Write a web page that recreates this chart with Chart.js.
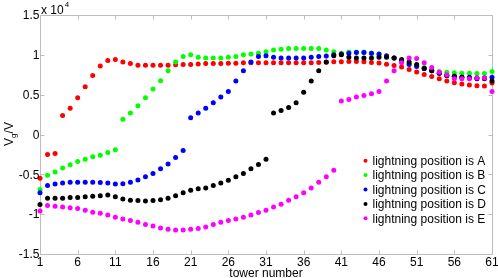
<!DOCTYPE html>
<html>
<head>
<meta charset="UTF-8">
<title>Vg vs tower number</title>
<script src="https://cdn.jsdelivr.net/npm/chart.js"></script>
<style>
  html, body { margin: 0; padding: 0; background: #fff; }
  #wrap { width: 498px; height: 278px; }
</style>
</head>
<body>
<div id="wrap"><canvas id="c" width="498" height="278"></canvas></div>
<script>
// tower numbers 1..61
const towers = [1,2,3,4,5,6,7,8,9,10,11,12,13,14,15,16,17,18,19,20,21,22,23,24,25,26,27,28,29,30,
  31,32,33,34,35,36,37,38,39,40,41,42,43,44,45,46,47,48,49,50,51,52,53,54,55,56,57,58,59,60,61];

// values in units of 10^4 V
const posA = [-0.55,-0.25,-0.24,0.24,0.33,0.46,0.60,0.74,0.86,0.93,0.94,0.91,0.89,0.87,0.87,0.87,0.87,0.87,0.875,0.88,
  0.88,0.885,0.89,0.89,0.89,0.895,0.895,0.90,0.90,0.90,0.90,0.90,0.90,0.90,0.90,0.90,0.90,0.904,0.908,0.912,
  0.912,0.917,0.917,0.912,0.904,0.896,0.883,0.867,0.846,0.817,0.783,0.754,0.729,0.70,0.671,0.65,0.633,0.621,0.613,0.608,0.646];
const posB = [-0.69,-0.51,-0.47,-0.42,-0.38,-0.34,-0.31,-0.28,-0.26,-0.225,-0.19,0.19,0.27,0.36,0.46,0.57,0.675,0.80,0.91,0.98,
  1.00,0.97,0.96,0.96,0.96,0.97,0.98,1.00,1.01,1.02,1.04,1.06,1.07,1.08,1.08,1.08,1.08,1.08,1.06,1.04,
  1.02,1.035,1.035,1.035,1.02,1.00,0.98,0.96,0.925,0.89,0.867,0.84,0.81,0.79,0.78,0.775,0.77,0.77,0.765,0.765,0.79];
const posC = [-0.73,-0.64,-0.62,-0.61,-0.60,-0.60,-0.60,-0.60,-0.604,-0.61,-0.62,-0.617,-0.60,-0.57,-0.53,-0.49,-0.43,-0.37,-0.29,-0.20,
  0.21,0.27,0.33,0.40,0.47,0.54,0.67,0.80,0.91,0.98,0.99,0.97,0.96,0.96,0.96,0.96,0.97,0.98,0.985,1.00,
  1.01,1.02,1.03,1.03,1.02,1.01,0.99,0.96,0.925,0.88,0.855,0.83,0.80,0.77,0.74,0.73,0.72,0.72,0.71,0.71,0.72];
const posD = [-0.88,-0.80,-0.80,-0.80,-0.79,-0.79,-0.78,-0.775,-0.77,-0.76,-0.78,-0.81,-0.825,-0.83,-0.835,-0.83,-0.82,-0.80,-0.77,-0.73,
  -0.70,-0.68,-0.67,-0.64,-0.61,-0.575,-0.53,-0.49,-0.43,-0.375,-0.31,0.27,0.30,0.34,0.40,0.53,0.67,0.80,0.91,0.99,
  1.00,0.97,0.96,0.96,0.96,0.97,0.97,0.96,0.94,0.91,0.88,0.83,0.80,0.77,0.74,0.73,0.72,0.71,0.70,0.70,0.67];
const posE = [-0.96,-0.89,-0.90,-0.91,-0.92,-0.93,-0.95,-0.975,-0.99,-1.01,-1.04,-1.06,-1.08,-1.10,-1.13,-1.15,-1.175,-1.19,-1.20,-1.20,
  -1.19,-1.18,-1.16,-1.13,-1.10,-1.08,-1.06,-1.04,-1.01,-0.98,-0.95,-0.91,-0.875,-0.825,-0.78,-0.73,-0.67,-0.60,-0.53,-0.45,
  0.42,0.44,0.47,0.49,0.51,0.54,0.67,0.80,0.90,0.96,0.955,0.90,0.84,0.78,0.75,0.70,0.70,0.70,0.71,0.71,0.54];

const seriesLabels = ['lightning position is A','lightning position is B','lightning position is C',
  'lightning position is D','lightning position is E'];
const seriesColors = ['#ff0000','#00ff00','#0000ff','#000000','#ff00ff'];
const xTicks = [1,6,11,16,21,26,31,36,41,46,51,56,61];
const yTicks = [-1.5,-1,-0.5,0,0.5,1,1.5];

const FONT = '"Liberation Sans", Arial, Helvetica, sans-serif';
const allSeries = [posA, posB, posC, posD, posE];

const datasets = allSeries.map((vals, i) => ({
  label: seriesLabels[i],
  data: vals.map((v, k) => ({ x: towers[k], y: v })),
  backgroundColor: seriesColors[i],
  borderWidth: 0,
  pointRadius: 2.5,
  pointHoverRadius: 2.5,
  clip: false,
  order: 5 - i   // later series on top, like matlab
}));

// axes box, inward ticks, labels, legend
const decor = {
  id: 'decor',
  beforeDatasetsDraw(chart) {
    const ctx = chart.ctx;
    const a = chart.chartArea;
    const xs = chart.scales.x, ys = chart.scales.y;
    const L = Math.round(a.left) + 0.5, R = Math.round(a.right) + 0.5;
    const T = Math.round(a.top) + 0.5, B = Math.round(a.bottom) + 0.5;
    ctx.save();
    ctx.strokeStyle = '#bdbdbd';
    ctx.lineWidth = 1;
    ctx.beginPath();
    ctx.rect(L, T, R - L, B - T);
    xTicks.forEach(t => {
      const px = Math.round(xs.getPixelForValue(t)) + 0.5;
      ctx.moveTo(px, B); ctx.lineTo(px, B - 4);
      ctx.moveTo(px, T); ctx.lineTo(px, T + 4);
    });
    yTicks.forEach(t => {
      const py = Math.round(ys.getPixelForValue(t)) + 0.5;
      ctx.moveTo(L, py); ctx.lineTo(L + 4, py);
      ctx.moveTo(R, py); ctx.lineTo(R - 4, py);
    });
    ctx.stroke();
    ctx.restore();
  },
  afterDraw(chart) {
    const ctx = chart.ctx;
    const a = chart.chartArea;
    const xs = chart.scales.x, ys = chart.scales.y;
    const L = Math.round(a.left) + 0.5;
    ctx.save();
    ctx.fillStyle = '#000';
    ctx.font = '12px ' + FONT;
    ctx.textBaseline = 'middle';
    ctx.textAlign = 'right';
    yTicks.forEach(t => ctx.fillText(String(t), L - 1, ys.getPixelForValue(t) + 1));
    ctx.textAlign = 'center';
    xTicks.forEach(t => ctx.fillText(String(t), xs.getPixelForValue(t), 263));
    ctx.fillText('tower number', (a.left + a.right) / 2, 274);

    // exponent
    ctx.textAlign = 'left';
    ctx.textBaseline = 'alphabetic';
    ctx.fillText('x 10', 41, 14);
    const w = ctx.measureText('x 10').width;
    ctx.font = '8px ' + FONT;
    ctx.fillText('4', 41 + w + 1, 7);

    // y label V_g/V
    ctx.save();
    ctx.translate(13, 134);
    ctx.rotate(-Math.PI / 2);
    ctx.font = '12px ' + FONT;
    const wV = ctx.measureText('V').width;
    const wRest = ctx.measureText('/V').width;
    ctx.font = '8px ' + FONT;
    const wg = ctx.measureText('g').width;
    let x0 = -(wV + wg + wRest) / 2;
    ctx.font = '12px ' + FONT;
    ctx.fillText('V', x0, 0);
    ctx.font = '8px ' + FONT;
    ctx.fillText('g', x0 + wV, 3);
    ctx.font = '12px ' + FONT;
    ctx.fillText('/V', x0 + wV + wg, 0);
    ctx.restore();

    // legend
    ctx.font = '12px ' + FONT;
    ctx.textBaseline = 'middle';
    seriesLabels.forEach((lab, i) => {
      const y = 160.7 + i * 14.4;
      ctx.fillStyle = seriesColors[i];
      ctx.beginPath();
      ctx.arc(365.5, y, 2, 0, Math.PI * 2);
      ctx.fill();
      ctx.fillStyle = '#000';
      ctx.fillText(lab, 372.5, y + 1);
    });
    ctx.restore();
  }
};

new Chart(document.getElementById('c'), {
  type: 'scatter',
  data: { datasets },
  options: {
    responsive: false,
    animation: false,
    events: [],
    layout: { padding: { left: 40, right: 6, top: 15, bottom: 24 } },
    plugins: { legend: { display: false }, tooltip: { enabled: false } },
    scales: {
      x: { type: 'linear', min: 1, max: 61, display: false },
      y: { type: 'linear', min: -1.5, max: 1.5, display: false }
    }
  },
  plugins: [decor]
});
</script>
</body>
</html>
